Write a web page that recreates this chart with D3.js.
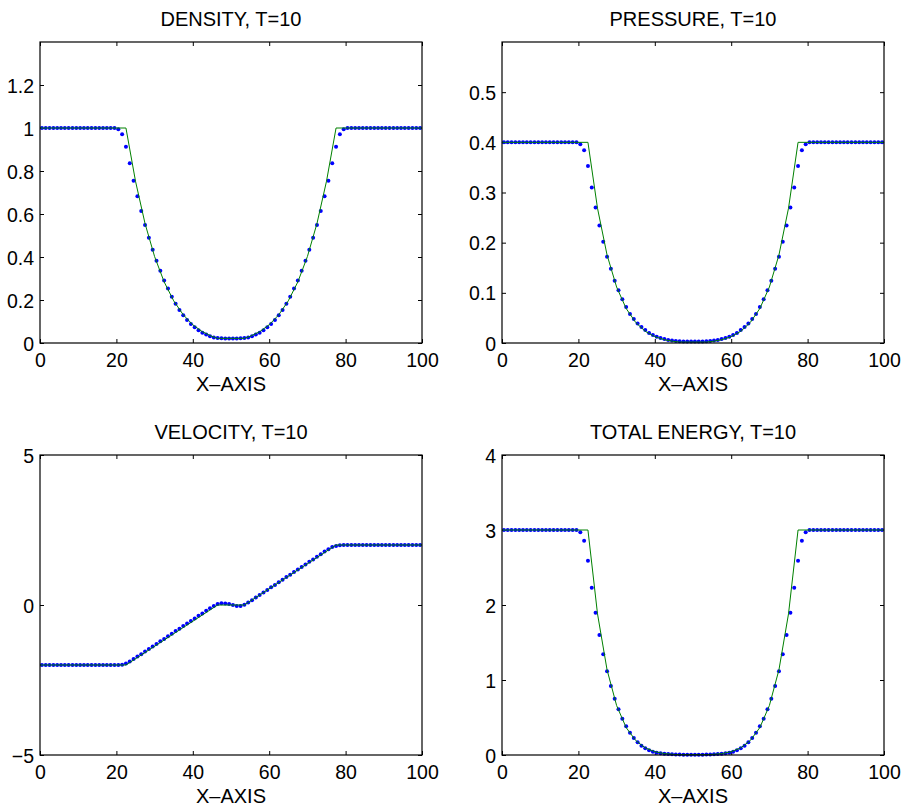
<!DOCTYPE html>
<html>
<head>
<meta charset="utf-8">
<script src="https://cdn.jsdelivr.net/npm/d3@7"></script>
<style>
    body { margin: 0; background: #fff; }
    svg { display: block; font-family: "Liberation Sans", Arial, Helvetica, sans-serif; }
</style>
</head>
<body>
<svg id="chart" width="903" height="807"></svg>
<script>
// cell centres of the numerical solution
const xCells = [
    0.5, 1.5, 2.5, 3.5, 4.5, 5.5, 6.5, 7.5, 8.5, 9.5,
    10.5, 11.5, 12.5, 13.5, 14.5, 15.5, 16.5, 17.5, 18.5, 19.5,
    20.5, 21.5, 22.5, 23.5, 24.5, 25.5, 26.5, 27.5, 28.5, 29.5,
    30.5, 31.5, 32.5, 33.5, 34.5, 35.5, 36.5, 37.5, 38.5, 39.5,
    40.5, 41.5, 42.5, 43.5, 44.5, 45.5, 46.5, 47.5, 48.5, 49.5,
    50.5, 51.5, 52.5, 53.5, 54.5, 55.5, 56.5, 57.5, 58.5, 59.5,
    60.5, 61.5, 62.5, 63.5, 64.5, 65.5, 66.5, 67.5, 68.5, 69.5,
    70.5, 71.5, 72.5, 73.5, 74.5, 75.5, 76.5, 77.5, 78.5, 79.5,
    80.5, 81.5, 82.5, 83.5, 84.5, 85.5, 86.5, 87.5, 88.5, 89.5,
    90.5, 91.5, 92.5, 93.5, 94.5, 95.5, 96.5, 97.5, 98.5, 99.5
];

const density = [
    1, 1, 1, 1, 1, 1, 1, 1, 1, 1,
    1, 1, 1, 1, 1, 1, 1, 1, 1, 1,
    0.994, 0.971, 0.913, 0.836, 0.755, 0.682, 0.614, 0.549, 0.490, 0.434,
    0.383, 0.336, 0.291, 0.253, 0.215, 0.183, 0.153, 0.129, 0.107, 0.088,
    0.073, 0.059, 0.048, 0.039, 0.031, 0.026, 0.023, 0.022, 0.021, 0.021,
    0.021, 0.021, 0.022, 0.023, 0.026, 0.031, 0.039, 0.048, 0.059, 0.073,
    0.088, 0.107, 0.129, 0.153, 0.183, 0.215, 0.253, 0.291, 0.336, 0.383,
    0.434, 0.490, 0.549, 0.614, 0.682, 0.755, 0.836, 0.913, 0.971, 0.994,
    1, 1, 1, 1, 1, 1, 1, 1, 1, 1,
    1, 1, 1, 1, 1, 1, 1, 1, 1, 1
];

const pressure = [
    0.4, 0.4, 0.4, 0.4, 0.4, 0.4, 0.4, 0.4, 0.4, 0.4,
    0.4, 0.4, 0.4, 0.4, 0.4, 0.4, 0.4, 0.4, 0.4, 0.4,
    0.396, 0.384, 0.353, 0.310, 0.270, 0.234, 0.202, 0.172, 0.148, 0.124,
    0.105, 0.087, 0.072, 0.058, 0.048, 0.039, 0.032, 0.026, 0.020, 0.016,
    0.0125, 0.0098, 0.0078, 0.0062, 0.0050, 0.0042, 0.0036, 0.0032, 0.0030, 0.0029,
    0.0029, 0.0030, 0.0032, 0.0036, 0.0042, 0.0050, 0.0062, 0.0078, 0.0098, 0.0125,
    0.016, 0.020, 0.026, 0.032, 0.039, 0.048, 0.058, 0.072, 0.087, 0.105,
    0.124, 0.148, 0.172, 0.202, 0.234, 0.270, 0.310, 0.353, 0.384, 0.396,
    0.4, 0.4, 0.4, 0.4, 0.4, 0.4, 0.4, 0.4, 0.4, 0.4,
    0.4, 0.4, 0.4, 0.4, 0.4, 0.4, 0.4, 0.4, 0.4, 0.4
];

const velocity = [
    -2, -2, -2, -2, -2, -2, -2, -2, -2, -2,
    -2, -2, -2, -2, -2, -2, -2, -2, -2, -2,
    -2, -1.99, -1.95, -1.88, -1.80, -1.72, -1.64, -1.55, -1.47, -1.38,
    -1.30, -1.21, -1.13, -1.04, -0.96, -0.87, -0.79, -0.70, -0.62, -0.53,
    -0.45, -0.36, -0.28, -0.19, -0.11, -0.03, 0.03, 0.06, 0.05, 0.03,
    0.00, -0.03, -0.03, 0.01, 0.08, 0.16, 0.25, 0.33, 0.42, 0.50,
    0.59, 0.67, 0.76, 0.84, 0.93, 1.01, 1.10, 1.18, 1.27, 1.35,
    1.44, 1.52, 1.61, 1.69, 1.78, 1.86, 1.93, 1.97, 1.99, 2,
    2, 2, 2, 2, 2, 2, 2, 2, 2, 2,
    2, 2, 2, 2, 2, 2, 2, 2, 2, 2
];

const energy = [
    3, 3, 3, 3, 3, 3, 3, 3, 3, 3,
    3, 3, 3, 3, 3, 3, 3, 3, 3, 3,
    2.969, 2.858, 2.591, 2.231, 1.898, 1.600, 1.342, 1.116, 0.920, 0.751,
    0.609, 0.484, 0.382, 0.298, 0.227, 0.169, 0.124, 0.089, 0.062, 0.044,
    0.031, 0.022, 0.016, 0.012, 0.009, 0.007, 0.006, 0.005, 0.005, 0.005,
    0.005, 0.005, 0.005, 0.006, 0.007, 0.009, 0.012, 0.016, 0.022, 0.031,
    0.044, 0.062, 0.089, 0.124, 0.169, 0.227, 0.298, 0.382, 0.484, 0.609,
    0.751, 0.920, 1.116, 1.342, 1.600, 1.898, 2.231, 2.591, 2.858, 2.969,
    3, 3, 3, 3, 3, 3, 3, 3, 3, 3,
    3, 3, 3, 3, 3, 3, 3, 3, 3, 3
];

// exact solution (green line)
const exactX = [0, 22.5, 25, 27.5, 30, 32.5, 35, 37.5, 40, 42.5, 45, 46.5,
    53.5, 55, 57.5, 60, 62.5, 65, 67.5, 70, 72.5, 75, 77.5, 100];
const exactDensity = [1, 1, 0.7525, 0.5553, 0.4019, 0.2843, 0.1961, 0.1312, 0.0848, 0.0526, 0.0310, 0.0218,
    0.0218, 0.0310, 0.0526, 0.0848, 0.1312, 0.1961, 0.2843, 0.4019, 0.5553, 0.7525, 1, 1];
const exactPressure = [0.4, 0.4, 0.2686, 0.1755, 0.1116, 0.0688, 0.0409, 0.0233, 0.0126, 0.0065, 0.0031, 0.0019,
    0.0019, 0.0031, 0.0065, 0.0126, 0.0233, 0.0409, 0.0688, 0.1116, 0.1755, 0.2686, 0.4, 0.4];
const exactEnergy = [3, 3, 1.882, 1.136, 0.660, 0.366, 0.193, 0.095, 0.044, 0.019, 0.008, 0.005,
    0.005, 0.008, 0.019, 0.044, 0.095, 0.193, 0.366, 0.660, 1.136, 1.882, 3, 3];
const exactVelX = [0, 22.5, 46.5, 53.5, 77.5, 100];
const exactVelocity = [-2, -2, 0, 0, 2, 2];

const xTicks = [0, 20, 40, 60, 80, 100];
const densityTicks = [0, 0.2, 0.4, 0.6, 0.8, 1, 1.2];
const pressureTicks = [0, 0.1, 0.2, 0.3, 0.4, 0.5];
const velocityTicks = [-5, 0, 5];
const energyTicks = [0, 1, 2, 3, 4];

const panels = [
    { title: 'DENSITY, T=10', ys: density, ex: exactX, ey: exactDensity,
        yDomain: [0, 1.4], yTicks: densityTicks, left: 40, top: 42, width: 382, height: 301 },
    { title: 'PRESSURE, T=10', ys: pressure, ex: exactX, ey: exactPressure,
        yDomain: [0, 0.6], yTicks: pressureTicks, left: 502, top: 42, width: 382, height: 301 },
    { title: 'VELOCITY, T=10', ys: velocity, ex: exactVelX, ey: exactVelocity,
        yDomain: [-5, 5], yTicks: velocityTicks, left: 40, top: 455, width: 382, height: 300 },
    { title: 'TOTAL ENERGY, T=10', ys: energy, ex: exactX, ey: exactEnergy,
        yDomain: [0, 4], yTicks: energyTicks, left: 502, top: 455, width: 382, height: 300 }
];

const fmt = d => (d < 0 ? '\u2212' + Math.abs(d) : String(d));
const tickLen = 4;

function drawPanel(svg, p) {
    const g = svg.append('g')
        .attr('transform', `translate(${p.left},${p.top})`);

    const x = d3.scaleLinear().domain([0, 100]).range([0, p.width]);
    const y = d3.scaleLinear().domain(p.yDomain).range([p.height, 0]);

    const bottom = g.append('g')
        .attr('transform', `translate(0,${p.height})`)
        .call(d3.axisBottom(x).tickValues(xTicks).tickFormat(fmt)
            .tickSizeInner(-tickLen).tickSizeOuter(0).tickPadding(10));
    const left = g.append('g')
        .call(d3.axisLeft(y).tickValues(p.yTicks).tickFormat(fmt)
            .tickSizeInner(-tickLen).tickSizeOuter(0).tickPadding(6));
    g.append('g')
        .call(d3.axisTop(x).tickValues(xTicks).tickFormat('')
            .tickSizeInner(-tickLen).tickSizeOuter(0));
    g.append('g')
        .attr('transform', `translate(${p.width},0)`)
        .call(d3.axisRight(y).tickValues(p.yTicks).tickFormat('')
            .tickSizeInner(-tickLen).tickSizeOuter(0));

    g.selectAll('.domain').remove();
    g.selectAll('.tick line').attr('stroke', '#000').attr('stroke-width', 1);
    g.selectAll('.tick text')
        .attr('fill', '#000')
        .style('font-size', '19.5px')
        .style('font-family', '"Liberation Sans", Arial, Helvetica, sans-serif');
    bottom.selectAll('.tick text').attr('dy', '0.72em');
    left.selectAll('.tick text').attr('dy', '0.36em');

    // numerical solution
    g.append('g')
        .selectAll('circle')
        .data(p.ys)
        .enter()
        .append('circle')
        .attr('cx', (d, i) => x(xCells[i]))
        .attr('cy', d => y(d))
        .attr('r', 2)
        .attr('fill', '#0000ff');

    // exact solution
    const line = d3.line()
        .x((d, i) => x(p.ex[i]))
        .y(d => y(d));
    g.append('path')
        .datum(p.ey)
        .attr('d', line)
        .attr('fill', 'none')
        .attr('stroke', '#008000')
        .attr('stroke-width', 1);

    g.append('rect')
        .attr('width', p.width)
        .attr('height', p.height)
        .attr('fill', 'none')
        .attr('stroke', '#000')
        .attr('stroke-width', 1.2);

    g.append('text')
        .attr('x', p.width / 2)
        .attr('y', -16)
        .attr('text-anchor', 'middle')
        .style('font-size', '20px')
        .text(p.title);

    g.append('text')
        .attr('x', p.width / 2)
        .attr('y', p.height + 48)
        .attr('text-anchor', 'middle')
        .style('font-size', '20px')
        .text('X\u2013AXIS');
}

const svg = d3.select('#chart');
panels.forEach(p => drawPanel(svg, p));
</script>
</body>
</html>
